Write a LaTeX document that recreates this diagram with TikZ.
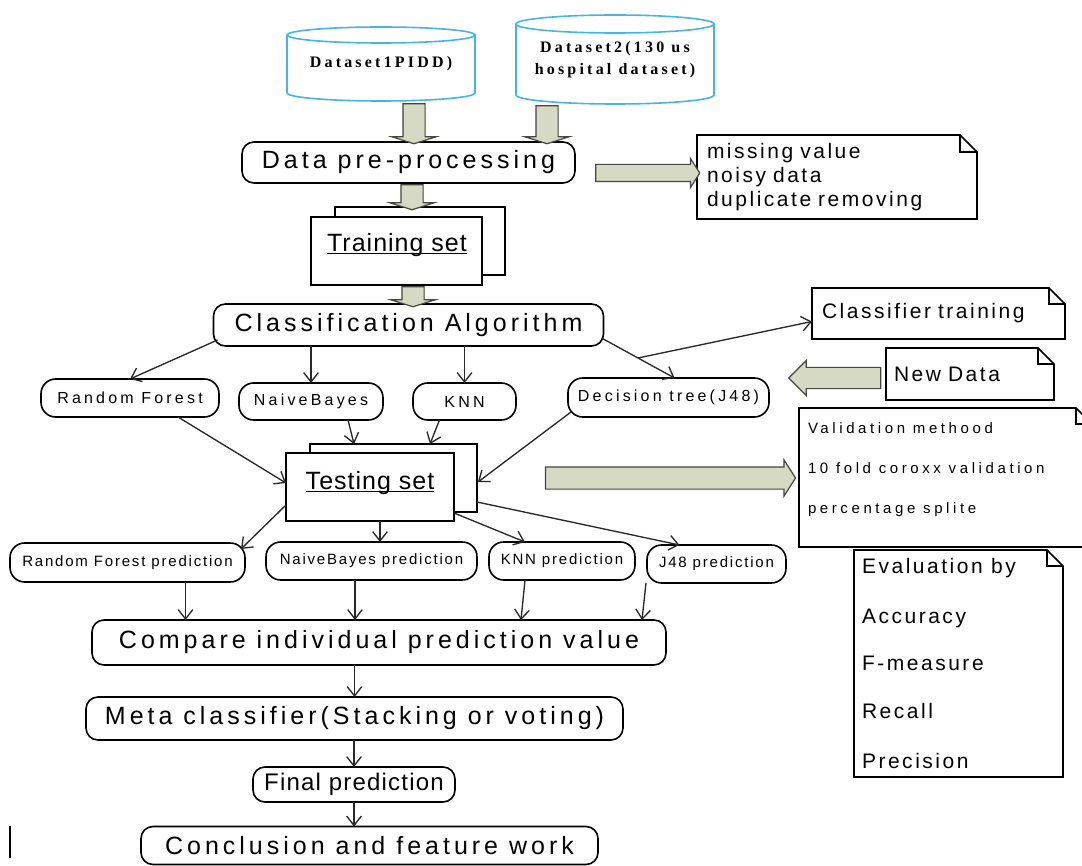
\documentclass[tikz,border=0pt]{standalone}
\usepackage{fontspec}
\setmainfont{Liberation Sans}
\newfontfamily\bigfont[LetterSpace=16]{Liberation Sans}
\newfontfamily\finfont[LetterSpace=5]{Liberation Sans}
\newfontfamily\notefont[LetterSpace=12]{Liberation Sans}
\newfontfamily\algfont[LetterSpace=20]{Liberation Sans}
\newfontfamily\predfont[LetterSpace=12]{Liberation Sans}
\newfontfamily\valfont[LetterSpace=24]{Liberation Sans}
\newfontfamily\setfont[LetterSpace=4]{Liberation Sans}
\newfontfamily\dsfont[LetterSpace=20]{Liberation Serif}
\usetikzlibrary{shapes.arrows,calc,arrows.meta}

\definecolor{fatfill}{RGB}{214,218,196}
\definecolor{fatedge}{RGB}{70,70,60}
\definecolor{cylblue}{RGB}{70,180,232}
\definecolor{linegray}{RGB}{40,40,40}

% underlined label with a rule just below the baseline
\newcommand\ulinetext[1]{\setbox0=\hbox{#1}\rlap{\rule[-2.2pt]{\wd0}{1pt}}\box0}

% outline of a note with a folded top-right corner
\newcommand\notefold[2]{%
  \draw[noteline] (#1.south west) -- (#1.north west) -- ($(#1.north east)+(-#2,0)$)
    -- ($(#1.north east)+(0,#2)$) -- (#1.south east) -- cycle;
  \draw[noteline] ($(#1.north east)+(-#2,0)$) -- ($(#1.north east)+(-#2,#2)$)
    -- ($(#1.north east)+(0,#2)$);}

\tikzset{
  sz/.style 2 args={minimum width=#1*0.75pt, minimum height=#2*0.75pt},
  rbox/.style={draw=black, line width=1.2pt, rounded corners=9pt, fill=white},
  sbox/.style={draw=black, line width=1.2pt, rounded corners=11pt, fill=white},
  docbox/.style={draw=black, line width=1.3pt, fill=white},
  noteline/.style={draw=black, line width=1.2pt, line join=miter},
  notebox/.style={align=left, inner xsep=7.5pt, font=\notefont\fontsize{15.75pt}{18pt}\selectfont},
  conn/.style={draw=linegray, line width=1pt, -{Straight Barb[length=7pt,width=11pt]}},
  fatarrow/.style={single arrow, draw=fatedge, fill=fatfill, line width=0.9pt, inner xsep=0pt},
  cyl/.style={draw=cylblue, line width=1.2pt},
  cylnode/.style={align=center, font=\dsfont\bfseries\fontsize{12pt}{16.5pt}\selectfont},
  bigtext/.style={font=\bigfont\fontsize{18.75pt}{22pt}\selectfont},
  algtext/.style={font=\algfont\fontsize{12pt}{14pt}\selectfont},
  predtext/.style={font=\predfont\fontsize{11.25pt}{13pt}\selectfont},
  valtext/.style={font=\valfont\fontsize{11.25pt}{13pt}\selectfont, anchor=base west},
  evaltext/.style={font=\notefont\fontsize{15.75pt}{20pt}\selectfont, anchor=base west},
  settext/.style={font=\setfont\fontsize{18.75pt}{22pt}\selectfont},
  downfat/.style={fatarrow, rotate=-90, inner ysep=7.875pt, single arrow head extend=8.25pt,
                  single arrow tip angle=145},
}

\begin{document}
\begin{tikzpicture}[x=0.75pt, y=-0.75pt, every node/.append style={inner sep=0pt, outer sep=0pt}]
\useasboundingbox (0,0) rectangle (1082,866);
\fill[white] (0,0) rectangle (1082,866);
\clip (0,0) rectangle (1082,866);

% ---- data sources ----
\node[cylnode, sz={188}{58}] (ds1) at (381,64) {Dataset1PIDD)};
\draw[cyl] (ds1.north west) -- (ds1.south west)
  arc[start angle=180, end angle=360, x radius=70.5pt, y radius=6pt] -- (ds1.north east);
\draw[cyl] (ds1.north) ellipse[x radius=70.5pt, y radius=6pt];

\node[cylnode, sz={198}{71}] (ds2) at (615,59.5) {Dataset2(130 us\\hospital dataset)};
\draw[cyl] (ds2.north west) -- (ds2.south west)
  arc[start angle=180, end angle=360, x radius=74.25pt, y radius=6.75pt] -- (ds2.north east);
\draw[cyl] (ds2.north) ellipse[x radius=74.25pt, y radius=6.75pt];

% ---- preprocessing ----
\node[rbox, bigtext, sz={333}{41}] (pre) at (408.5,162.5) {Data pre-processing};
\node[notebox, sz={280}{84}, text width=195pt] (note1) at (837,177)
  {missing value\\noisy data\\duplicate removing};
\notefold{note1}{17}

% ---- training set ----
\node[docbox, sz={170}{68}] (trb) at (420,241) {};
\node[docbox, sz={171}{68}] (trf) at (396.5,251) {};
\node[settext] (trt) at (397,245) {\ulinetext{Training set}};

% ---- classification ----
\node[rbox, bigtext, sz={390}{42}] (cls) at (408.5,325) {Classification Algorithm};
\node[notebox, sz={253}{51}, text width=174.75pt] (cltr) at (938.5,313.5) {Classifier training};
\notefold{cltr}{16}
\node[notebox, sz={168}{52}, text width=114pt, inner xsep=6pt] (newd) at (970,374) {New Data};
\notefold{newd}{16}

\node[sbox, algtext, sz={178}{38}] (rf)  at (130,398)   {Random Forest};
\node[sbox, algtext, sz={144}{37}] (nb)  at (311,401.5) {NaiveBayes};
\node[sbox, algtext, sz={103}{37}] (knn) at (464.5,401.5) {KNN};
\node[sbox, algtext, sz={201}{39}] (dt)  at (668.5,397.5) {Decision tree(J48)};

% ---- testing set ----
\node[docbox, sz={167}{68}] (tb2) at (393.5,478) {};
\node[docbox, sz={168}{68}] (tf2) at (370,487) {};
\node[settext] (tst) at (370,483) {\ulinetext{Testing set}};

% ---- validation and evaluation notes ----
\node[sz={293}{139}] (val) at (945.5,477.5) {};
\notefold{val}{16}
\node[valtext] (val1) at (808,433) {Validation methood};
\node[valtext] (val2) at (808,473) {10 fold coroxx validation};
\node[valtext] (val3) at (808,513) {percentage splite};

\node[sz={209}{227}] (eval) at (958.5,663.5) {};
\notefold{eval}{16}
\node[evaltext] (ev1) at (862,573) {Evaluation by};
\node[evaltext] (ev2) at (862,623) {Accuracy};
\node[evaltext] (ev3) at (862,670) {F-measure};
\node[evaltext] (ev4) at (862,718) {Recall};
\node[evaltext] (ev5) at (862,768) {Precision};

% ---- individual predictions ----
\node[sbox, predtext, sz={235}{39}] (rfp)  at (127.5,562.5) {Random Forest prediction};
\node[sbox, predtext, sz={211}{38}] (nbp)  at (371.5,561)   {NaiveBayes prediction};
\node[sbox, predtext, sz={146}{38}] (knnp) at (562,561)     {KNN prediction};
\node[sbox, predtext, sz={139}{38}] (j48p) at (716.5,564)   {J48 prediction};

% ---- ensemble stages ----
\node[rbox, bigtext, sz={574}{45}] (cmp)  at (379,642.5)   {Compare individual prediction value};
\node[rbox, bigtext, sz={537}{43}] (meta) at (354.5,718.5) {Meta classifier(Stacking or voting)};
\node[rbox, font=\finfont\fontsize{18pt}{22pt}\selectfont, sz={202}{35}] (fin) at (354,784.5) {Final prediction};
\node[rbox, bigtext, sz={457}{38}] (conc) at (369.5,845.5) {Conclusion and feature work};

% ---- wide block arrows ----
\node[downfat, minimum height=30pt]    (fa1) at ($(pre.north)+(5.5,-20)$) {};
\node[downfat, minimum height=28.5pt]  (fa2) at ($(pre.north)+(138.5,-19)$) {};
\node[downfat, minimum height=18.75pt] (fa3) at ($(pre.south)+(3.5,12.5)$) {};
\node[downfat, minimum height=15pt]    (fa4) at ($(cls.north)+(4.5,-9)$) {};
\node[fatarrow, inner ysep=6pt, single arrow head extend=4.5pt,
      single arrow tip angle=115, minimum height=78pt] (fa5) at ($(pre.east)+(70,10.5)$) {};
\node[fatarrow, inner ysep=7.875pt, single arrow head extend=5.25pt,
      single arrow tip angle=115, minimum height=187.5pt] (fa6) at ($(tb2.east)+(190,0)$) {};
\node[fatarrow, rotate=180, inner ysep=7.5pt, single arrow head extend=5.25pt,
      single arrow tip angle=90, minimum height=69pt] (fa7) at ($(newd.west)+(-46,4)$) {};

% ---- connectors ----
\coordinate (clsdt) at ($(cls.south east)+(-2,-8)$);
\coordinate (dtin) at ($(dt.north)+(6,0)$);
\coordinate (split) at ($(clsdt)!0.5!(dtin)$);

\draw[conn] ($(cls.south west)+(4,-6)$) -- (rf.north);
\draw[conn] (cls.south -| nb.north) -- (nb.north);
\draw[conn] (cls.south -| knn.north) -- (knn.north);
\draw[conn] (clsdt) -- (dtin);
\draw[conn] (split) -- ($(cltr.west)+(0,8)$);

\draw[conn] ($(rf.south)+(48,0)$) -- ($(tf2.west)+(0,-4)$);
\draw[conn] ($(nb.south)+(37,0)$) -- ($(tb2.north west)+(44,0)$);
\draw[conn] ($(knn.south)+(-25,0)$) -- ($(tb2.north west)+(120,0)$);
\draw[conn] ($(dt.south west)+(3,-5)$) -- ($(tb2.east)+(1,4)$);

\draw[conn] ($(tf2.west)+(0,18)$) -- ($(rfp.north east)+(-4,6)$);
\draw[conn] ($(tf2.south)+(10,0)$) -- ($(nbp.north)+(8.5,0)$);
\draw[conn] ($(tf2.south east)+(0,-8)$) -- ($(knnp.north)+(-37,0)$);
\draw[conn] ($(tb2.south east)+(0,-10)$) -- ($(j48p.north)+(-37,0)$);

\draw[conn] ($(rfp.south)+(58,0)$) -- ($(cmp.north)+(-193.5,0)$);
\draw[conn] ($(nbp.south)+(-16.5,0)$) -- ($(cmp.north)+(-24,0)$);
\draw[conn] ($(knnp.south)+(-37,0)$) -- ($(cmp.north)+(142,0)$);
\draw[conn] ($(j48p.south)+(-70.5,0)$) -- ($(cmp.north)+(263,0)$);

\draw[conn] (cmp.south -| meta.north) -- (meta.north);
\draw[conn] (meta.south -| fin.north) -- (fin.north);
\draw[conn] (fin.south) -- (fin.south |- conc.north);

% stray margin tick at the lower left
\draw[line width=0.8pt] (10,826) -- (10,858);
\end{tikzpicture}
\end{document}
